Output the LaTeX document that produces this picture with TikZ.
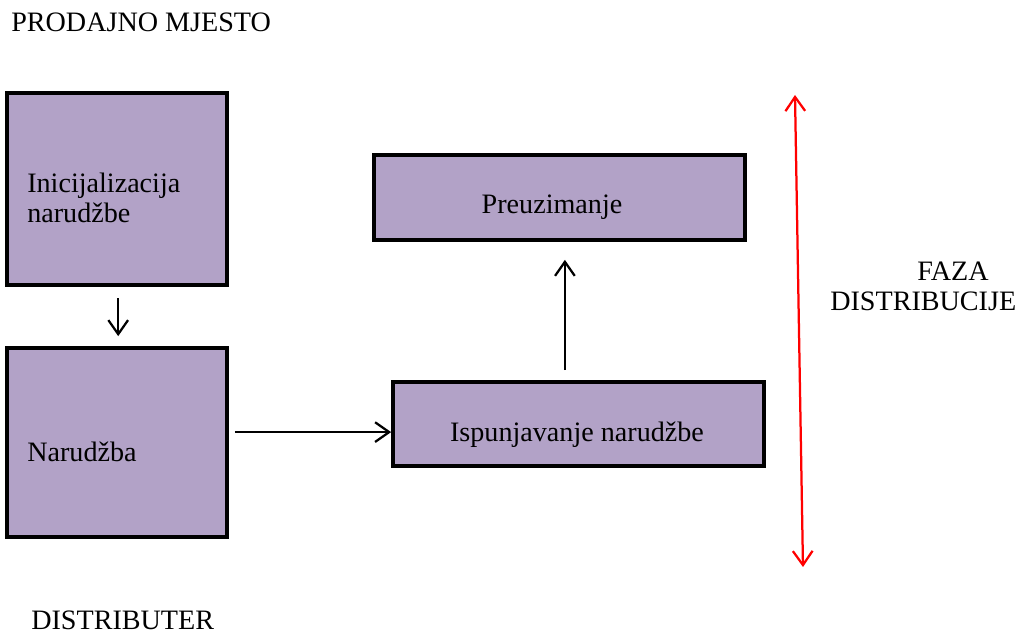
\documentclass[tikz,border=0pt]{standalone}
\usepackage{fontspec}
\setmainfont{Liberation Serif}
\usepackage{xcolor}
\usepackage{tikz}
\definecolor{stagepurple}{RGB}{178, 162, 199}
\definecolor{phasered}{RGB}{255, 0, 0}
\usetikzlibrary{arrows.meta, positioning, calc}

\begin{document}
\begin{tikzpicture}[
    x=0.025cm, y=-0.025cm,
    font=\fontsize{20}{21.5}\selectfont,
    stage/.style={rectangle, draw=black, line width=2.6pt, fill=stagepurple, inner sep=0pt},
    caption/.style={inner sep=0pt, align=left},
    barb/.tip={Straight Barb[length=10pt, width=14pt, line width=1.6pt]},
    arrow/.style={-barb, line width=1.6pt}
]
    \useasboundingbox (0,0) rectangle (1022,635);

    % Stages
    \node[stage, minimum width=5.5cm, minimum height=4.8cm] (init) at (117, 189) {};
    \node[stage, minimum width=5.5cm, minimum height=4.725cm] (order) at (117, 442.5) {};
    \node[stage, minimum width=9.275cm, minimum height=2.1cm] (fill) at (578.5, 424) {};
    \node[stage, minimum width=9.275cm, minimum height=2.125cm] (pickup) at (559.5, 197.5) {};

    % Stage texts
    \node[caption, anchor=base west] (initlbl) at (27, 223) {Inicijalizacija\\narudžbe};
    \node[caption, anchor=base west] (orderlbl) at (27, 462) {Narudžba};
    \node[caption, anchor=base] (filllbl) at (577, 442) {Ispunjavanje narudžbe};
    \node[caption, anchor=base] (pickuplbl) at (552, 214) {Preuzimanje};

    % Side texts
    \node[caption, anchor=base west] (shop) at (11, 32) {PRODAJNO MJESTO};
    \node[caption, anchor=base west] (distributor) at (31, 630) {DISTRIBUTER};
    \node[caption, anchor=base west] (phase) at (830, 311) {\hspace*{2.175cm}FAZA\\DISTRIBUCIJE};

    % Flow
    \draw[arrow, shorten <=0.28cm, shorten >=0.25cm] ([xshift=0.03cm]init.south) -- ([xshift=0.03cm]order.north);
    \draw[arrow, shorten <=0.15cm] ([yshift=0.26cm]order.east) -- ([yshift=0.26cm]order.east -| fill.west);
    \draw[arrow, shorten <=0.25cm, shorten >=0.45cm] ([xshift=-0.34cm]fill.north) -- ([xshift=-0.34cm]fill.north |- pickup.south);

    % Distribution phase
    \coordinate (phasetop) at (795, 95);
    \coordinate (phasebot) at (803, 567);
    \draw[barb-barb, phasered, line width=1.6pt] (phasetop) -- (phasebot);
\end{tikzpicture}
\end{document}
